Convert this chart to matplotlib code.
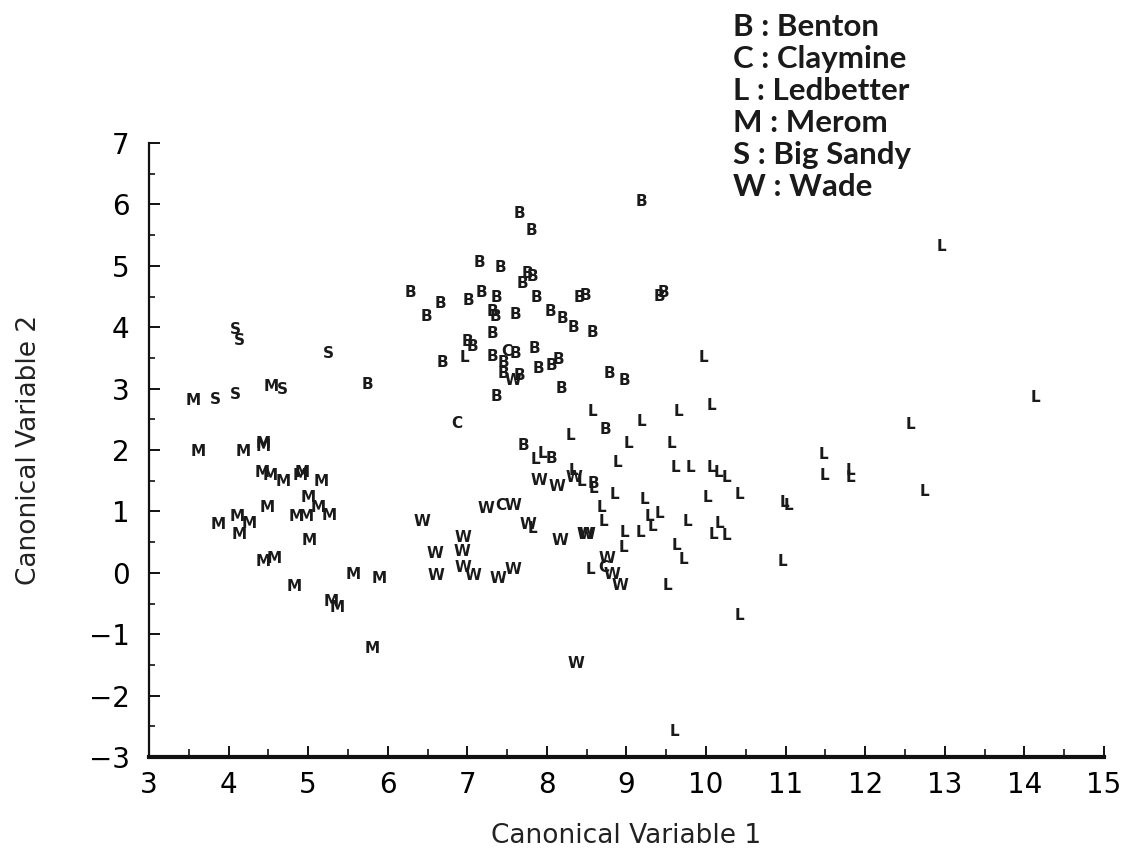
import matplotlib
matplotlib.use("Agg")
import matplotlib.pyplot as plt
from matplotlib.ticker import MultipleLocator

# canonical scores, one pair of lists per site (letter = site code)
B_x = [5.74, 7.65, 7.81, 7.15, 7.41, 7.76, 7.82, 7.69, 6.28, 6.66, 7.02, 7.18, 7.37,
       7.87, 8.41, 8.48, 6.48, 7.31, 7.35, 7.60, 8.05, 8.20, 8.33, 8.57, 7.32, 7.00,
       7.07, 7.32, 7.60, 7.84, 7.45, 7.46, 7.66, 6.69, 7.89, 8.06, 8.15, 8.18, 8.78,
       8.97, 7.37, 9.19, 9.42, 9.46, 8.73, 7.70, 8.06, 8.58]
B_y = [3.07, 5.86, 5.57, 5.05, 4.97, 4.88, 4.83, 4.72, 4.56, 4.39, 4.43, 4.56, 4.49,
       4.49, 4.49, 4.51, 4.17, 4.26, 4.17, 4.21, 4.25, 4.15, 3.99, 3.91, 3.89, 3.76,
       3.68, 3.53, 3.58, 3.66, 3.43, 3.25, 3.22, 3.42, 3.32, 3.37, 3.47, 3.01, 3.25,
       3.14, 2.87, 6.04, 4.50, 4.57, 2.34, 2.08, 1.87, 1.46]

C_x = [6.87, 7.50, 7.42, 8.72]
C_y = [2.44, 3.61, 1.10, 0.09]

L_x = [6.97, 8.57, 9.19, 8.29, 9.03, 7.86, 7.95, 8.89, 8.33, 8.44, 8.58, 8.85, 9.23,
       8.68, 8.71, 8.97, 9.18, 8.96, 7.82, 8.55, 9.65, 10.07, 9.57, 9.62, 9.80, 10.07,
       10.15, 10.26, 10.42, 10.02, 9.29, 9.33, 9.41, 9.77, 10.09, 10.17, 10.25, 9.63,
       9.71, 10.96, 9.51, 10.42, 10.98, 11.03, 9.97, 14.14, 12.57, 11.47, 11.49, 11.81,
       11.81, 12.75, 12.96, 9.60]
L_y = [3.51, 2.62, 2.47, 2.24, 2.11, 1.84, 1.95, 1.79, 1.67, 1.48, 1.37, 1.27, 1.20,
       1.06, 0.83, 0.66, 0.66, 0.42, 0.73, 0.05, 2.62, 2.72, 2.11, 1.72, 1.72, 1.71,
       1.63, 1.55, 1.28, 1.22, 0.91, 0.75, 0.97, 0.83, 0.62, 0.81, 0.60, 0.45,
       0.22, 0.18, -0.20, -0.70, 1.14, 1.10, 3.51, 2.86, 2.41, 1.92, 1.59, 1.56,
       1.66, 1.32, 5.31, -2.59]

M_x = [3.55, 4.53, 3.62, 4.18, 4.44, 4.44, 4.42, 4.52, 4.68, 4.90, 4.93, 5.16, 5.00,
       4.48, 4.85, 4.98, 5.12, 5.27, 3.87, 4.11, 4.26, 4.13, 5.01, 4.44, 4.57, 4.83,
       5.56, 5.89, 5.29, 5.37, 5.80]
M_y = [2.80, 3.04, 1.98, 1.97, 2.05, 2.10, 1.63, 1.59, 1.48, 1.59, 1.64, 1.48, 1.23,
       1.07, 0.91, 0.91, 1.06, 0.93, 0.79, 0.91, 0.81, 0.63, 0.52, 0.18, 0.24, -0.23,
       -0.02, -0.10, -0.46, -0.57, -1.24]

S_x = [4.08, 4.13, 5.25, 3.84, 4.08, 4.67]
S_y = [3.97, 3.79, 3.58, 2.83, 2.91, 2.98]

W_x = [7.57, 7.90, 8.13, 8.34, 6.43, 7.23, 7.57, 7.76, 8.16, 8.48, 8.50, 6.94, 6.93,
       6.59, 6.61, 6.94, 7.07, 7.38, 7.57, 8.76, 8.82, 8.92, 8.36]
W_y = [3.14, 1.50, 1.40, 1.56, 0.84, 1.04, 1.09, 0.79, 0.52, 0.62, 0.62, 0.57, 0.34,
       0.32, -0.05, 0.08, -0.04, -0.10, 0.06, 0.24, -0.02, -0.21, -1.47]

groups = [("B", B_x, B_y), ("C", C_x, C_y), ("L", L_x, L_y),
          ("M", M_x, M_y), ("S", S_x, S_y), ("W", W_x, W_y)]
legend_lines = ["B : Benton", "C : Claymine", "L : Ledbetter",
                "M : Merom", "S : Big Sandy", "W : Wade"]

fig = plt.figure(figsize=(11.33, 8.55), dpi=100)
ax = fig.add_axes([0.1315, 0.1146, 0.8429, 0.7181])

for letter, xs, ys in groups:
    for x, y in zip(xs, ys):
        ax.text(x, y, letter, ha='center', va='center', fontsize=11,
                fontweight='bold', family='DejaVu Sans', color='#1a1a1a')

ax.set_xlim(3, 15)
ax.set_ylim(-3, 7)
ax.xaxis.set_major_locator(MultipleLocator(1))
ax.xaxis.set_minor_locator(MultipleLocator(0.5))
ax.yaxis.set_major_locator(MultipleLocator(1))
ax.yaxis.set_minor_locator(MultipleLocator(0.5))

for side in ['top', 'right']:
    ax.spines[side].set_visible(False)
ax.spines['left'].set_linewidth(1.6)
ax.spines['bottom'].set_linewidth(3)
ax.spines['left'].set_color('#111111')
ax.spines['bottom'].set_color('#111111')

ax.tick_params(axis='both', which='both', direction='in', color='#111111')
ax.tick_params(axis='x', which='major', length=8, width=1.4, pad=10, labelsize=20)
ax.tick_params(axis='x', which='minor', length=6, width=1.2)
ax.tick_params(axis='y', which='major', length=8, width=1.4, pad=14, labelsize=20)
ax.tick_params(axis='y', which='minor', length=4, width=1.2)

yticks = list(range(-3, 8))
ax.set_yticks(yticks)
ax.set_yticklabels([str(v).replace('-', '\u2212') for v in yticks])

ax.set_xlabel('Canonical Variable 1', fontsize=19, color='#222222')
ax.set_ylabel('Canonical Variable 2', fontsize=19, color='#222222')
ax.xaxis.set_label_coords(0.5, -0.108)
ax.yaxis.set_label_coords(-0.112, 0.5)

fig.text(733 / 1133, 1 - 13 / 855, "\n".join(legend_lines), ha='left', va='top',
         fontsize=22.5, family='Lato', fontweight='bold', linespacing=1.17,
         color='#1a1a1a')

fig.savefig('out.png', dpi=100)
